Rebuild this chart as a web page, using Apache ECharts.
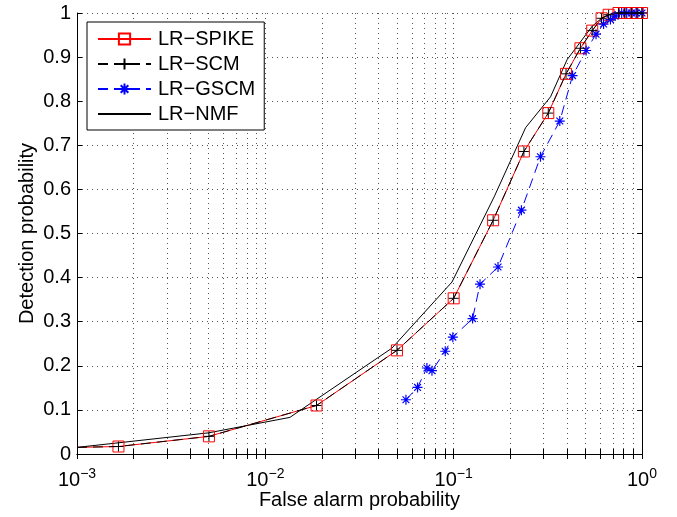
<!DOCTYPE html>
<html>
<head>
<meta charset="utf-8">
<script src="https://cdn.jsdelivr.net/npm/echarts@6/dist/echarts.min.js"></script>
<style>
html,body{margin:0;padding:0;background:#fff;}
#chart{width:677px;height:517px;}
</style>
</head>
<body>
<div id="chart"></div>
<script>
// ---- data ----
const seriesNames = ['LR\u2212SPIKE', 'LR\u2212SCM', 'LR\u2212GSCM', 'LR\u2212NMF'];

const spikeX = [0.001, 0.00166, 0.00502, 0.0187, 0.050, 0.100, 0.162, 0.236, 0.318, 0.395, 0.471, 0.544, 0.61, 0.665, 0.75, 0.81, 0.88, 0.95, 1.0];
const spikeY = [0.015, 0.017, 0.040, 0.110, 0.235, 0.353, 0.530, 0.686, 0.773, 0.862, 0.920, 0.960, 0.988, 0.996, 1.0, 1.0, 1.0, 1.0, 1.0];

const scmX = [0.001, 0.00166, 0.00502, 0.0187, 0.050, 0.100, 0.162, 0.236, 0.318, 0.395, 0.471, 0.544, 0.61, 0.665, 0.75, 0.81, 0.88, 0.95, 1.0];
const scmY = [0.015, 0.017, 0.040, 0.110, 0.235, 0.353, 0.530, 0.686, 0.773, 0.862, 0.920, 0.960, 0.988, 0.996, 1.0, 1.0, 1.0, 1.0, 1.0];

const gscmX = [0.0558, 0.0643, 0.0721, 0.0767, 0.0902, 0.099, 0.126, 0.138, 0.172, 0.229, 0.289, 0.366, 0.428, 0.505, 0.570, 0.625, 0.68, 0.72, 0.78, 0.83, 0.88, 0.93, 1.0];
const gscmY = [0.123, 0.151, 0.195, 0.189, 0.233, 0.265, 0.307, 0.385, 0.424, 0.553, 0.674, 0.755, 0.858, 0.915, 0.952, 0.975, 0.985, 0.993, 1.0, 1.0, 1.0, 1.0, 1.0];

const nmfX = [0.001, 0.005, 0.0135, 0.047, 0.098, 0.164, 0.241, 0.327, 0.40, 0.544, 0.61, 0.70, 1.0];
const nmfY = [0.015, 0.048, 0.083, 0.240, 0.390, 0.583, 0.740, 0.810, 0.894, 0.970, 0.988, 1.0, 1.0];

// tick positions
const xTickValues = [0.001,0.002,0.003,0.004,0.005,0.006,0.007,0.008,0.009,
                     0.01,0.02,0.03,0.04,0.05,0.06,0.07,0.08,0.09,
                     0.1,0.2,0.3,0.4,0.5,0.6,0.7,0.8,0.9,1];
const xLabelValues = [0.001, 0.01, 0.1, 1];
const yMin = 0, yMax = 1, yInterval = 0.1;

const xTitle = 'False alarm probability';
const yTitle = 'Detection probability';

// ---- helpers ----
function pairs(xs, ys){ return xs.map((x,i)=>[x, ys[i]]); }
const FONT = 'Liberation Sans, Arial, Helvetica, sans-serif';
const plusPath = 'path://M5,0L5,10M0,5L10,5';
const starPath = 'path://M5,0L5,10M0,5L10,5M1.6,1.6L8.4,8.4M8.4,1.6L1.6,8.4';

const spikeData = pairs(spikeX, spikeY).map((p,i)=> i===0 ? {value:p, symbol:'none'} : p);
const scmData = pairs(scmX, scmY).map((p,i)=> i===0 ? {value:p, symbol:'none'} : p);

const chart = echarts.init(document.getElementById('chart'), null, {renderer:'canvas'});
const gridLine = {show:true, lineStyle:{color:'#555', width:1, type:[1,4]}};

const option = {
  backgroundColor:'#fff',
  animation:false,
  textStyle:{fontFamily:FONT},
  grid:{left:77, right:35, top:13, bottom:63, containLabel:false, outerBoundsMode:'none'},
  legend:{
    orient:'vertical', left:87, top:22,
    padding:[7,9,6,10],
    backgroundColor:'#fff', borderColor:'#000', borderWidth:1,
    itemWidth:53, itemHeight:14, itemGap:5,
    selectedMode:false,
    textStyle:{fontSize:20, fontFamily:FONT, color:'#000', lineHeight:20, padding:[0,0,0,2]},
    data: seriesNames
  },
  xAxis:[{
    type:'log', logBase:10, min:0.001, max:1,
    position:'bottom',
    axisLine:{show:true, lineStyle:{color:'#000', width:1}},
    axisTick:{show:true, inside:true, length:5, customValues:xTickValues, lineStyle:{color:'#000'}},
    splitLine:gridLine,
    minorTick:{show:false}, minorSplitLine:{show:false},
    axisLabel:{
      customValues:xLabelValues,
      margin:14, color:'#000',
      formatter:function(v){
        const e = Math.round(Math.log10(v));
        const es = e < 0 ? '\u2212' + (-e) : String(e);
        return '{b|10}{s|' + es + '}';
      },
      rich:{
        b:{fontSize:20, fontFamily:FONT, color:'#000', lineHeight:24},
        s:{fontSize:14, fontFamily:FONT, color:'#000', lineHeight:24, padding:[0,0,12,0]}
      }
    },
    name:xTitle, nameLocation:'middle', nameGap:36, nameMoveOverlap:false,
    nameTextStyle:{fontSize:20, fontFamily:FONT, color:'#000'}
  },{
    type:'log', logBase:10, min:0.001, max:1,
    position:'top',
    axisLine:{show:true, lineStyle:{color:'#000', width:1}},
    axisTick:{show:true, inside:true, length:5, customValues:xTickValues, lineStyle:{color:'#000'}},
    axisLabel:{show:false}, splitLine:{show:false}
  }],
  yAxis:[{
    type:'value', min:yMin, max:yMax, interval:yInterval,
    position:'left',
    axisLine:{show:true, lineStyle:{color:'#000', width:1}},
    axisTick:{show:true, inside:true, length:5, lineStyle:{color:'#000'}},
    splitLine:gridLine,
    axisLabel:{fontSize:20, fontFamily:FONT, color:'#000', margin:6},
    name:yTitle, nameLocation:'middle', nameGap:40, nameRotate:90, nameMoveOverlap:false,
    nameTextStyle:{fontSize:20, fontFamily:FONT, color:'#000'}
  },{
    type:'value', min:yMin, max:yMax, interval:yInterval,
    position:'right',
    axisLine:{show:true, lineStyle:{color:'#000', width:1}},
    axisTick:{show:true, inside:true, length:5, lineStyle:{color:'#000'}},
    axisLabel:{show:false}, splitLine:{show:false}
  }],
  series:[{
    name:seriesNames[0], type:'line', xAxisIndex:0, yAxisIndex:0,
    data:spikeData, clip:false,
    symbol:'rect', symbolSize:11,
    lineStyle:{color:'#ff0000', width:1},
    itemStyle:{color:'transparent', borderColor:'#ff0000', borderWidth:1},
    z:2
  },{
    name:seriesNames[1], type:'line', xAxisIndex:0, yAxisIndex:0,
    data:scmData, clip:false,
    symbol:plusPath, symbolSize:10,
    lineStyle:{color:'#000', width:1, type:[10,6]},
    itemStyle:{color:'transparent', borderColor:'#000', borderWidth:1},
    z:3
  },{
    name:seriesNames[2], type:'line', xAxisIndex:0, yAxisIndex:0,
    data:pairs(gscmX, gscmY), clip:false,
    symbol:starPath, symbolSize:10,
    lineStyle:{color:'#0000ff', width:1, type:[10,6]},
    itemStyle:{color:'transparent', borderColor:'#0000ff', borderWidth:1.2},
    z:2
  },{
    name:seriesNames[3], type:'line', xAxisIndex:0, yAxisIndex:0,
    data:pairs(nmfX, nmfY), clip:false,
    symbol:'circle', showSymbol:false,
    lineStyle:{color:'#000', width:1},
    itemStyle:{color:'transparent', borderColor:'transparent', borderWidth:0},
    z:2
  }]
};
chart.setOption(option);
</script>
</body>
</html>
